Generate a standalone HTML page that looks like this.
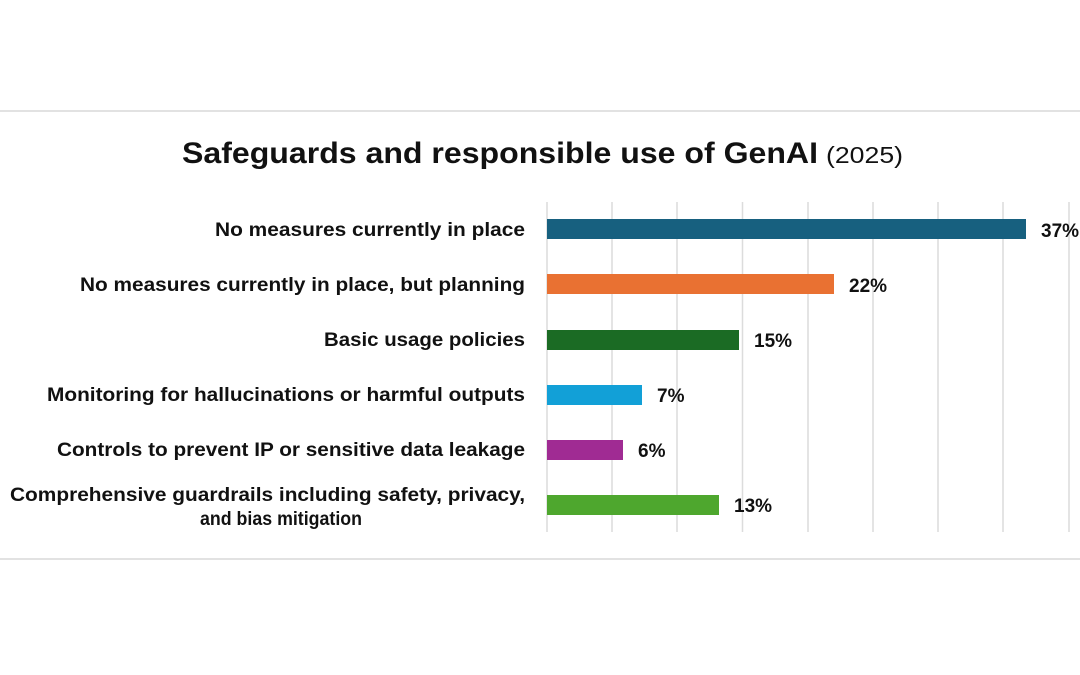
<!DOCTYPE html>
<html><head><meta charset="utf-8"><style>
html,body{margin:0;padding:0;background:#fff;}
svg{display:block;}
text{font-family:"Liberation Sans",sans-serif;fill:#111;}
.l{font-weight:bold;font-size:19px;}
</style></head><body>
<svg width="1080" height="675" viewBox="0 0 1080 675" xmlns="http://www.w3.org/2000/svg">
<rect width="1080" height="675" fill="#fff"/>
<line x1="0" y1="111" x2="1080" y2="111" stroke="#d9d9d9" stroke-width="1.5"/>
<line x1="0" y1="559" x2="1080" y2="559" stroke="#d9d9d9" stroke-width="1.5"/>
<text x="182" y="163" font-size="30" font-weight="bold" textLength="636" lengthAdjust="spacingAndGlyphs">Safeguards and responsible use of GenAI</text>
<text x="826" y="163" font-size="23" textLength="77" lengthAdjust="spacingAndGlyphs">(2025)</text>
<g stroke="#dcdcdc" stroke-width="1.5">
<line x1="547" y1="202" x2="547" y2="532"/>
<line x1="612" y1="202" x2="612" y2="532"/>
<line x1="677" y1="202" x2="677" y2="532"/>
<line x1="742.5" y1="202" x2="742.5" y2="532"/>
<line x1="808" y1="202" x2="808" y2="532"/>
<line x1="873" y1="202" x2="873" y2="532"/>
<line x1="938" y1="202" x2="938" y2="532"/>
<line x1="1003" y1="202" x2="1003" y2="532"/>
<line x1="1069" y1="202" x2="1069" y2="532"/>
</g>
<rect x="547" y="219" width="479" height="20" fill="#17607f"/>
<rect x="547" y="274" width="287" height="20" fill="#e97132"/>
<rect x="547" y="330" width="192" height="20" fill="#1b6b24"/>
<rect x="547" y="385" width="95" height="20" fill="#12a0d7"/>
<rect x="547" y="440" width="76" height="20" fill="#a02b93"/>
<rect x="547" y="495" width="172" height="20" fill="#4ea72e"/>
<g>
<text class="l" x="215" y="236" textLength="310" lengthAdjust="spacingAndGlyphs">No measures currently in place</text>
<text class="l" x="80" y="291" textLength="445" lengthAdjust="spacingAndGlyphs">No measures currently in place, but planning</text>
<text class="l" x="324" y="346" textLength="201" lengthAdjust="spacingAndGlyphs">Basic usage policies</text>
<text class="l" x="47" y="401" textLength="478" lengthAdjust="spacingAndGlyphs">Monitoring for hallucinations or harmful outputs</text>
<text class="l" x="57" y="456" textLength="468" lengthAdjust="spacingAndGlyphs">Controls to prevent IP or sensitive data leakage</text>
<text class="l" x="10" y="501" textLength="515" lengthAdjust="spacingAndGlyphs">Comprehensive guardrails including safety, privacy,</text>
<text class="l" x="200" y="525" textLength="162" lengthAdjust="spacingAndGlyphs">and bias mitigation</text>
<text class="l" x="1041" y="237">37%</text>
<text class="l" x="849" y="292">22%</text>
<text class="l" x="754" y="347">15%</text>
<text class="l" x="657" y="402">7%</text>
<text class="l" x="638" y="457">6%</text>
<text class="l" x="734" y="512">13%</text>
</g>
</svg>
</body></html>
